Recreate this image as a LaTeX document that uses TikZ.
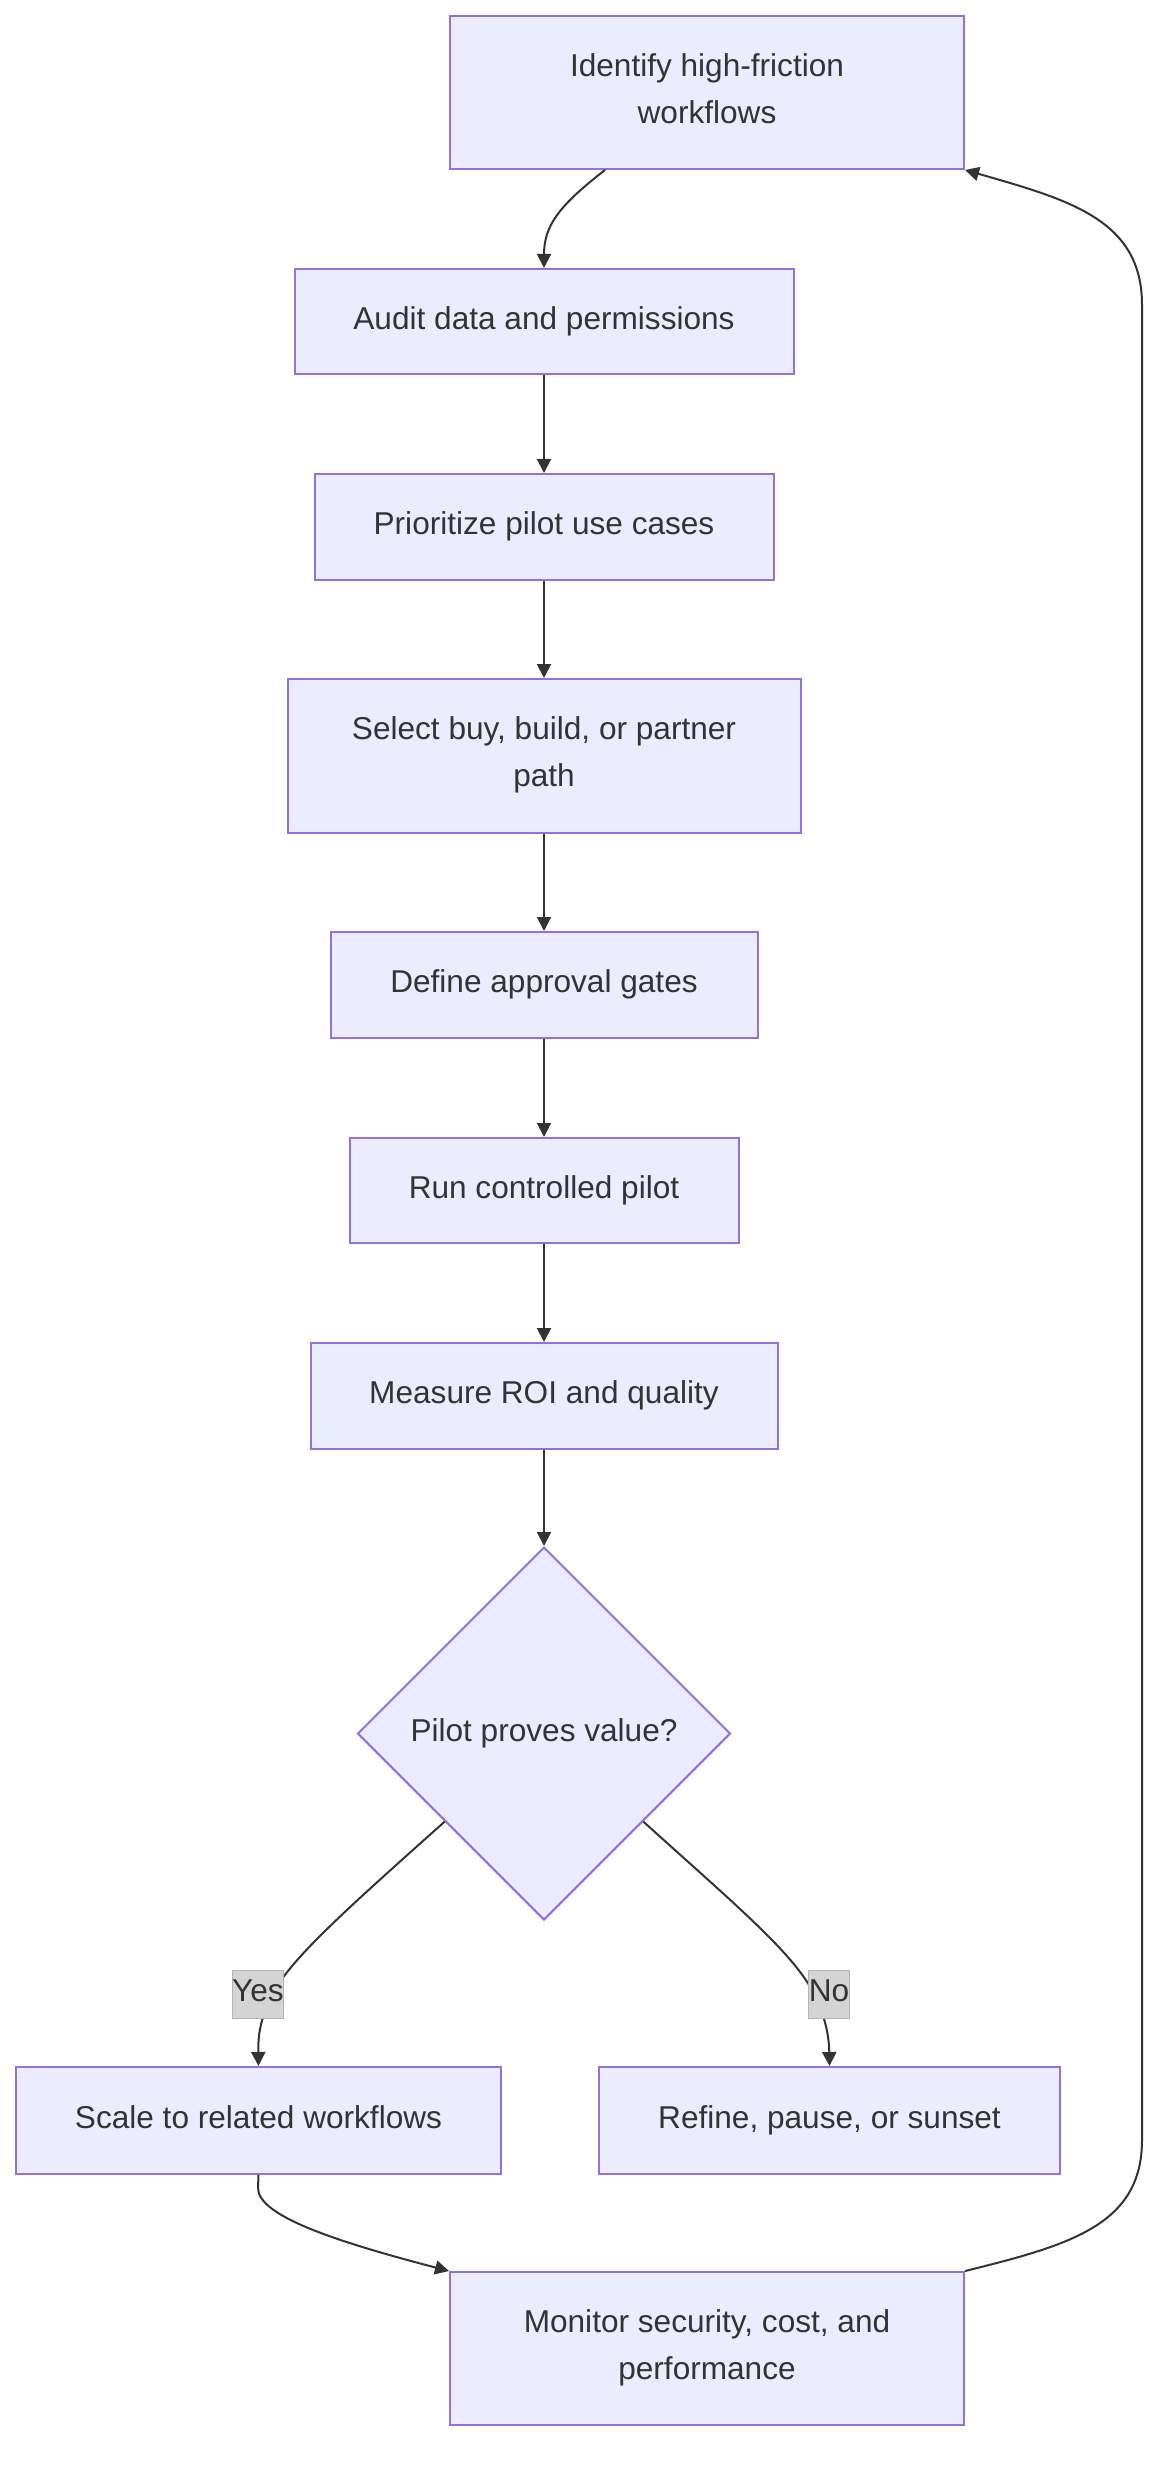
\documentclass[tikz,border=0pt]{standalone}
\usepackage{fontspec}
\setmainfont{Liberation Sans}
\usetikzlibrary{shapes.geometric,arrows.meta,calc}
\definecolor{nodefill}{HTML}{ECECFF}
\definecolor{nodeline}{HTML}{9370DB}
\definecolor{ink}{HTML}{333333}
\definecolor{lblfill}{HTML}{D4D4D4}
\newcommand\mystrut{\rule[-4.1pt]{0pt}{15.9pt}}
\begin{document}
\begin{tikzpicture}[x=0.5pt,y=-0.5pt,
  box/.style={draw=nodeline,fill=nodefill,line width=1pt,text=ink,
    font=\fontsize{15.8pt}{23.5pt}\selectfont,align=center,inner sep=0pt,
    execute at begin node=\mystrut,execute at end node=\mystrut},
  dec/.style={box,diamond,aspect=1,minimum width=186.5pt,minimum height=186.5pt},
  lbl/.style={fill=lblfill,draw=lblfill!85!black,line width=0.4pt,text=ink,
    font=\fontsize{15.8pt}{23.5pt}\selectfont,inner sep=0pt,minimum height=24pt,
    execute at begin node=\mystrut},
  link/.style={draw=ink,line width=1pt,-{Triangle[length=7pt,width=7pt]}}]
\fill[white] (0,0) rectangle (1174,2476);
\useasboundingbox (0,0) rectangle (1174,2476);

\node[box,minimum width=257pt,minimum height=76.5pt] (n1) at (707,92.5) {Identify high-friction\\workflows};
\node[box,minimum width=249.5pt,minimum height=52.5pt] (n2) at (544,321.5) {Audit data and permissions};
\node[box,minimum width=229.5pt,minimum height=53pt] (n3) at (544,527) {Prioritize pilot use cases};
\node[box,minimum width=256.5pt,minimum height=77pt] (n4) at (544,756) {Select buy, build, or partner\\path};
\node[box,minimum width=213.5pt,minimum height=53pt] (n5) at (544,985) {Define approval gates};
\node[box,minimum width=194.5pt,minimum height=52.5pt] (n6) at (544,1190.5) {Run controlled pilot};
\node[box,minimum width=233.5pt,minimum height=53pt] (n7) at (544,1396) {Measure ROI and quality};
\node[dec] (d) at (544,1733.5) {Pilot proves value?};
\node[box,minimum width=242.5pt,minimum height=53.5pt] (ys) at (258.5,2120.5) {Scale to related workflows};
\node[box,minimum width=230.5pt,minimum height=53.5pt] (no) at (829.5,2120.5) {Refine, pause, or sunset};
\node[box,minimum width=257pt,minimum height=76.5pt] (mon) at (707,2348.5) {Monitor security, cost, and\\performance};

% edges
\draw[link] ($(n1.south)+(-102,0)$) .. controls (560,205) and (544,225) .. (n2.north);
\draw[link] (n2) -- (n3);
\draw[link] (n3) -- (n4);
\draw[link] (n4) -- (n5);
\draw[link] (n5) -- (n6);
\draw[link] (n6) -- (n7);
\draw[link] (n7) -- (d.north);
\draw[link] ($(d.west)!0.47!(d.south)$) .. controls (340,1915) and (290,1960) .. (272,1995)
  .. controls (260,2020) and (258,2035) .. (ys.north);
\draw[link] ($(d.east)!0.47!(d.south)$) .. controls (730,1900) and (790,1950) .. (812,1990)
  .. controls (825,2015) and (829,2035) .. (no.north);
\draw[link] (ys.south) -- (258,2188) .. controls (258,2215) and (330,2240) .. (mon.north west);
\draw[link] (mon.north east) .. controls (1070,2245) and (1142,2225) .. (1142,2140)
  -- (1142,305) .. controls (1142,220) and (1070,200) .. (n1.south east);

% labels
\node[lbl] (ly) at (258,1994) {Yes};
\node[lbl] (ln) at (829,1994) {No};
\end{tikzpicture}
\end{document}
